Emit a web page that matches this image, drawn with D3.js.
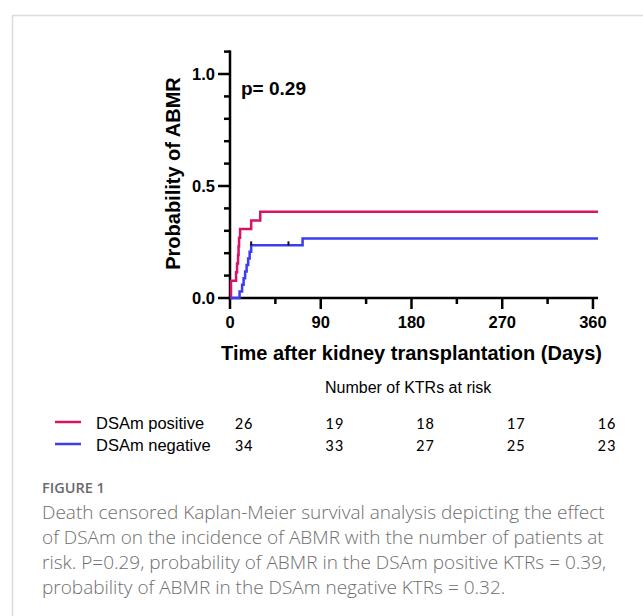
<!DOCTYPE html>
<html>
<head>
<meta charset="utf-8">
<script src="https://cdn.jsdelivr.net/npm/d3@7"></script>
<style>
  body { margin: 0; background: #fff; }
  svg { display: block; }
</style>
</head>
<body>
<div id="chart"></div>
<script>
// step curves (day, cumulative probability of ABMR)
var posDays = [0, 1, 6, 7, 8, 8.5, 9, 10, 21, 30, 365];
var posProb = [0, 0.077, 0.115, 0.154, 0.192, 0.231, 0.269, 0.308, 0.346, 0.385, 0.385];
var negDays = [0, 9.5, 12, 13.5, 15, 16.5, 18, 19.5, 21, 72, 365];
var negProb = [0, 0.029, 0.059, 0.088, 0.118, 0.147, 0.176, 0.206, 0.235, 0.266, 0.266];
var negCensorDays = [21, 58];
var negCensorProb = [0.235, 0.235];

// number at risk table
var riskTimes = [0, 90, 180, 270, 360];
var riskPos = [26, 19, 18, 17, 16];
var riskNeg = [34, 33, 27, 25, 23];

var groups = ["DSAm positive", "DSAm negative"];
var colors = ["#d51466", "#3c3cf2"];

var captionLines = [
  "Death censored Kaplan-Meier survival analysis depicting the effect",
  "of DSAm on the incidence of ABMR with the number of patients at",
  "risk. P=0.29, probability of ABMR in the DSAm positive KTRs = 0.39,",
  "probability of ABMR in the DSAm negative KTRs = 0.32."
];

var svgWidth = 643, svgHeight = 616;
var svg = d3.select("#chart").append("svg")
  .attr("width", svgWidth)
  .attr("height", svgHeight);

// figure frame (top and left border)
svg.append("path")
  .attr("d", "M12.5,616 L12.5,15.5 L643,15.5")
  .attr("fill", "none")
  .attr("stroke", "#dcdcdc")
  .attr("stroke-width", 1.5);

var x = d3.scaleLinear().domain([0, 365]).range([230, 598]);
var y = d3.scaleLinear().domain([0, 1.1]).range([298, 51.6]);

var axisFont = "'Liberation Sans', Arial, sans-serif";

// y axis
var yAxis = svg.append("g").attr("transform", "translate(" + x(0) + ",0)");
yAxis.append("line")
  .attr("x1", 0).attr("x2", 0)
  .attr("y1", y(0) + 1.2).attr("y2", y(1.1) - 1.2)
  .attr("stroke", "#000").attr("stroke-width", 2.5);
var yTicks = d3.range(0, 12).map(function(i) { return i / 10; });
yAxis.selectAll(".yt").data(yTicks).enter().append("line")
  .attr("x1", function(d, i) { return i % 5 === 0 ? -12 : -6; })
  .attr("x2", 0)
  .attr("y1", function(d) { return y(d); })
  .attr("y2", function(d) { return y(d); })
  .attr("stroke", "#000").attr("stroke-width", 2.5);
yAxis.selectAll(".yl").data([0, 0.5, 1]).enter().append("text")
  .attr("x", -15)
  .attr("y", function(d) { return y(d); })
  .attr("dy", "0.36em")
  .attr("text-anchor", "end")
  .style("font-family", axisFont)
  .style("font-weight", "bold")
  .style("font-size", "16.5px")
  .text(function(d) { return d3.format(".1f")(d); });

// x axis
var xAxis = svg.append("g").attr("transform", "translate(0," + y(0) + ")");
xAxis.append("line")
  .attr("x1", x(0) - 1.2).attr("x2", x(365))
  .attr("y1", 0).attr("y2", 0)
  .attr("stroke", "#000").attr("stroke-width", 2.5);
var xTicks = d3.range(0, 361, 45);
xAxis.selectAll(".xt").data(xTicks).enter().append("line")
  .attr("x1", function(d) { return x(d); })
  .attr("x2", function(d) { return x(d); })
  .attr("y1", 0)
  .attr("y2", function(d) { return d % 90 === 0 ? 11 : 6; })
  .attr("stroke", "#000").attr("stroke-width", 2.5);
xAxis.selectAll(".xl").data(riskTimes).enter().append("text")
  .attr("x", function(d) { return x(d); })
  .attr("y", 30)
  .attr("text-anchor", "middle")
  .style("font-family", axisFont)
  .style("font-weight", "bold")
  .style("font-size", "16.5px")
  .text(function(d) { return d; });

// axis titles
svg.append("text")
  .attr("transform", "translate(180," + 173.5 + ") rotate(-90)")
  .attr("text-anchor", "middle")
  .style("font-family", axisFont)
  .style("font-weight", "bold")
  .style("font-size", "20px")
  .text("Probability of ABMR");

svg.append("text")
  .attr("x", 411.5)
  .attr("y", 360)
  .attr("text-anchor", "middle")
  .style("font-family", axisFont)
  .style("font-weight", "bold")
  .style("font-size", "20px")
  .text("Time after kidney transplantation (Days)");

svg.append("text")
  .attr("x", 241)
  .attr("y", 95)
  .style("font-family", axisFont)
  .style("font-weight", "bold")
  .style("font-size", "19px")
  .text("p= 0.29");

// curves
var line = d3.line()
  .x(function(d) { return x(d[0]); })
  .y(function(d) { return y(d[1]); })
  .curve(d3.curveStepAfter);

var curves = [d3.zip(posDays, posProb), d3.zip(negDays, negProb)];
svg.selectAll(".curve").data(curves).enter().append("path")
  .attr("d", line)
  .attr("fill", "none")
  .attr("stroke", function(d, i) { return colors[i]; })
  .attr("stroke-width", 2.5);

// censor marks on negative curve
svg.selectAll(".censor").data(d3.zip(negCensorDays, negCensorProb)).enter().append("line")
  .attr("x1", function(d) { return x(d[0]); })
  .attr("x2", function(d) { return x(d[0]); })
  .attr("y1", function(d) { return y(d[1]) - 4; })
  .attr("y2", function(d) { return y(d[1]); })
  .attr("stroke", "#111")
  .attr("stroke-width", 2);

// number at risk
svg.append("text")
  .attr("x", 325)
  .attr("y", 393)
  .style("font-family", axisFont)
  .style("font-size", "16px")
  .text("Number of KTRs at risk");

var rows = [riskPos, riskNeg];
var rowY = [429, 451];
rows.forEach(function(vals, r) {
  svg.append("line")
    .attr("x1", 55).attr("x2", 81)
    .attr("y1", rowY[r] - 7).attr("y2", rowY[r] - 7)
    .attr("stroke", colors[r])
    .attr("stroke-width", 2.5);
  svg.append("text")
    .attr("x", 96)
    .attr("y", rowY[r])
    .style("font-family", axisFont)
    .style("font-size", "16.5px")
    .text(groups[r]);
  svg.selectAll(".risk" + r).data(vals).enter().append("text")
    .attr("x", function(d, i) { return x(riskTimes[i]) + 14; })
    .attr("y", rowY[r])
    .attr("text-anchor", "middle")
    .style("font-family", "Carlito, Calibri, 'Liberation Sans', sans-serif")
    .style("font-size", "16.5px")
    .style("letter-spacing", "1px")
    .text(function(d) { return d; });
});

// caption
svg.append("text")
  .attr("x", 42)
  .attr("y", 493)
  .style("font-family", "'Open Sans', sans-serif")
  .style("font-weight", "600")
  .style("font-size", "14.5px")
  .attr("fill", "#6a6a6a")
  .text("FIGURE 1");

svg.selectAll(".cap").data(captionLines).enter().append("text")
  .attr("x", 42)
  .attr("y", function(d, i) { return 519 + i * 25; })
  .style("font-family", "'Open Sans', sans-serif")
  .style("font-weight", "300")
  .style("font-size", "19px")
  .attr("fill", "#6e6e6e")
  .text(function(d) { return d; });
</script>
</body>
</html>
